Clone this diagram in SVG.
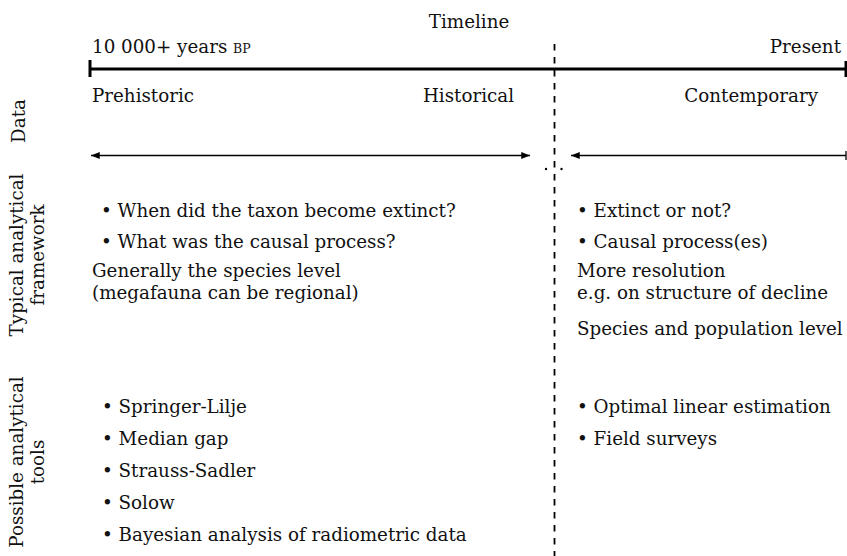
<svg xmlns="http://www.w3.org/2000/svg" width="847" height="556" viewBox="0 0 847 556">
<style>
text{font-family:"DejaVu Serif","Liberation Serif",serif;font-size:18.3px;fill:#111}
.sc{font-size:12.5px}
.axis{stroke:#000;stroke-width:3;fill:none}
.thin{stroke:#000;stroke-width:1.3;fill:none}
.dash{stroke:#000;stroke-width:1.8;stroke-dasharray:6.5 6.5;fill:none}
</style>
<defs>
<marker id="ah" viewBox="0 0 10 8" refX="10" refY="4" markerWidth="9" markerHeight="7" markerUnits="userSpaceOnUse" orient="auto-start-reverse">
<path d="M0,0 L10,4 L0,8 Z" fill="#000"/>
</marker>
</defs>
<g id="timeline">
<text x="469" y="28" text-anchor="middle">Timeline</text>
<text x="92" y="53">10 000+ years <tspan class="sc">BP</tspan></text>
<text x="841" y="53" text-anchor="end">Present</text>
<line class="axis" x1="90" y1="69" x2="846" y2="69"/>
<line class="axis" x1="90" y1="60" x2="90" y2="77"/>
<line class="axis" x1="846" y1="61" x2="846" y2="77"/>
<text x="92" y="102">Prehistoric</text>
<text x="514" y="102" text-anchor="end">Historical</text>
<text x="818" y="102" text-anchor="end">Contemporary</text>
</g>
<g id="connectors">
<line class="dash" x1="554.5" y1="44" x2="554.5" y2="556"/>
<line class="thin" x1="91" y1="155.5" x2="530" y2="155.5" marker-start="url(#ah)" marker-end="url(#ah)"/>
<line class="thin" x1="571" y1="155.5" x2="846" y2="155.5" marker-start="url(#ah)"/>
<line class="thin" x1="846" y1="151" x2="846" y2="160"/>
<circle cx="546" cy="169" r="1.2" fill="#000"/>
<circle cx="561.5" cy="169" r="1.2" fill="#000"/>
</g>
<g id="row-labels">
<text transform="translate(25,121) rotate(-90)" text-anchor="middle">Data</text>
<text transform="translate(23,255) rotate(-90)" text-anchor="middle">Typical analytical</text>
<text transform="translate(44,255) rotate(-90)" text-anchor="middle">framework</text>
<text transform="translate(23,462) rotate(-90)" text-anchor="middle">Possible analytical</text>
<text transform="translate(44,462) rotate(-90)" text-anchor="middle">tools</text>
</g>
<g id="framework-left">
<text x="101" y="217">• When did the taxon become extinct?</text>
<text x="101" y="248">• What was the causal process?</text>
<text x="92" y="277">Generally the species level</text>
<text x="92" y="299">(megafauna can be regional)</text>
</g>
<g id="framework-right">
<text x="577" y="217">• Extinct or not?</text>
<text x="577" y="248">• Causal process(es)</text>
<text x="577" y="277">More resolution</text>
<text x="577" y="299">e.g. on structure of decline</text>
<text x="577" y="335">Species and population level</text>
</g>
<g id="tools-left">
<text x="102" y="413">• Springer-Lilje</text>
<text x="102" y="445">• Median gap</text>
<text x="102" y="477">• Strauss-Sadler</text>
<text x="102" y="509">• Solow</text>
<text x="102" y="541">• Bayesian analysis of radiometric data</text>
</g>
<g id="tools-right">
<text x="577" y="413">• Optimal linear estimation</text>
<text x="577" y="445">• Field surveys</text>
</g>
</svg>
